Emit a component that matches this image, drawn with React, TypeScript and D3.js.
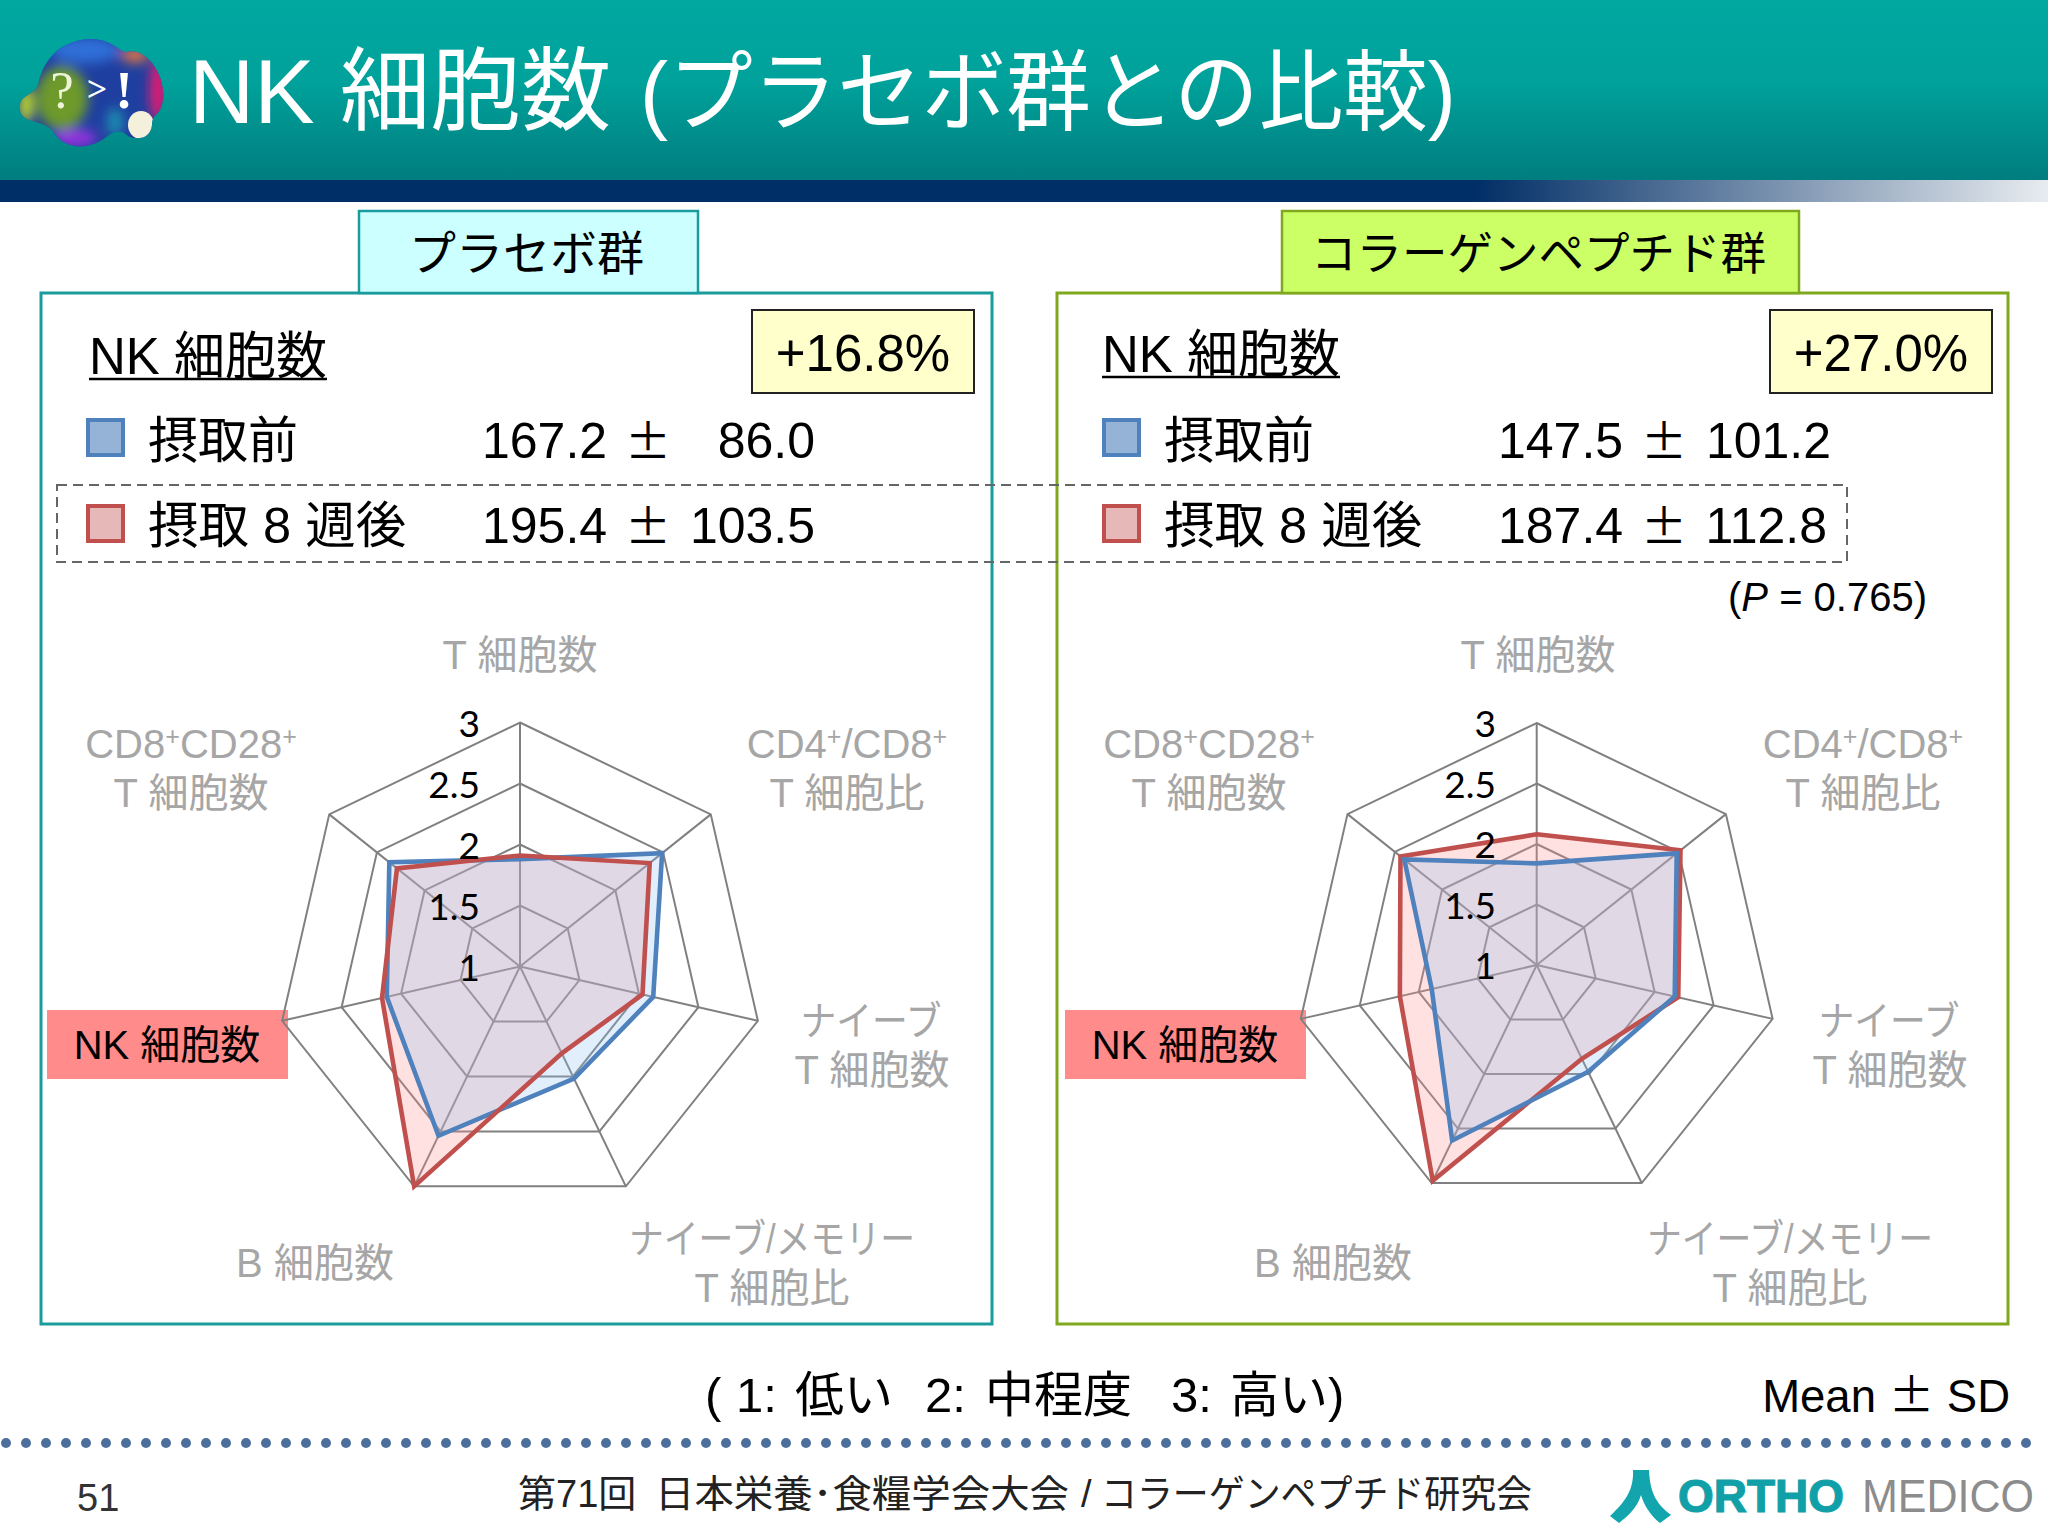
import React from "react";
import * as d3 from "d3";

const categories = ["T 細胞数", "CD4+/CD8+ T 細胞比", "ナイーブ T 細胞数", "ナイーブ/メモリー T 細胞比", "B 細胞数", "NK 細胞数", "CD8+CD28+ T 細胞数"];
const ticks = [1, 1.5, 2, 2.5, 3];
const placeboBefore = [1.88, 2.49, 2.12, 2.02, 2.54, 2.12, 2.37];
const placeboAfter = [1.91, 2.36, 2.03, 1.79, 3.0, 2.16, 2.29];
const collagenBefore = [1.84, 2.48, 2.17, 1.98, 2.61, 1.89, 2.40];
const collagenAfter = [2.08, 2.52, 2.20, 1.86, 2.98, 2.16, 2.44];

const SANS = '"Liberation Sans","Noto Sans CJK JP",sans-serif';
const CJK = '"Noto Sans CJK JP",sans-serif';
const BLUE = "#4f81bd";
const RED = "#c0504d";
const GREY = "#a6a6a6";
const GRID = "#808080";

function Radar({ cx, cy, R, before, after, redOnTop, labelX }: any) {
  const r = d3.scaleLinear().domain([1, 3]).range([0, R]);
  const angle = d3.scalePoint<number>().domain(d3.range(categories.length + 1) as any).range([0, 2 * Math.PI]);
  const ringLine = d3.lineRadial<number>().angle((_, i) => angle(i as any) as number).radius((d) => r(d)).curve(d3.curveLinearClosed);
  const rings = ticks.slice(1);
  const spokes = categories.map((_, i) => {
    const a = angle(i as any) as number;
    return [r(3) * Math.sin(a), -r(3) * Math.cos(a)];
  });
  const seriesB = <path d={ringLine(before) as string} fill="none" stroke={BLUE} strokeWidth={4.6} strokeLinejoin="miter" />;
  const seriesA = <path d={ringLine(after) as string} fill="none" stroke={RED} strokeWidth={4.6} strokeLinejoin="miter" />;
  return (
    <g>
      <g transform={`translate(${cx},${cy})`}>
        {spokes.map((s, i) => <line key={i} x1={0} y1={0} x2={s[0]} y2={s[1]} stroke={GRID} strokeWidth={2} />)}
        {rings.map((t) => (
          <path key={t} d={ringLine(categories.map(() => t)) as string} fill="none" stroke={GRID} strokeWidth={2} />
        ))}
        <path d={ringLine(after) as string} fill="#ff8f8f" fillOpacity={0.27} />
        <path d={ringLine(before) as string} fill="#8fc0f5" fillOpacity={0.27} />
        {redOnTop ? <>{seriesB}{seriesA}</> : <>{seriesA}{seriesB}</>}
      </g>
      {ticks.map((t) => (
        <text key={t} x={labelX} y={cy - r(t) + 14} textAnchor="end" fontFamily="Lato,sans-serif" fontSize={37} fill="#000">{t}</text>
      ))}
    </g>
  );
}

function Sup({ x, y, parts }: any) {
  return (
    <text x={x} y={y} textAnchor="middle" fontFamily={SANS} fontSize={40} fill={GREY}>
      {parts.map((p: string, i: number) => p === "+"
        ? <tspan key={i} fontSize={25} dy={-13}>+</tspan>
        : <tspan key={i} dy={i > 0 && parts[i - 1] === "+" ? 13 : 0}>{p}</tspan>)}
    </text>
  );
}

function Panel(p: any) {
  const dx = p.dx;
  const g = (x: number, y: number, s: string, size = 40, fill = GREY, len?: number) => (
    <text x={x + dx} y={y} textAnchor="middle" fontFamily={SANS} fontSize={size} fill={fill}
      {...(len ? { textLength: len, lengthAdjust: "spacingAndGlyphs" } : {})}>{s}</text>
  );
  return (
    <g>
      <rect x={p.x} y={293} width={p.w} height={1031} fill="#fff" stroke={p.color} strokeWidth={3} />
      <rect x={p.tabX} y={211} width={p.tabW} height={82} fill={p.tabFill} stroke={p.color} strokeWidth={2.5} />
      <text x={p.tabX + p.tabW / 2 - 2} y={270} textAnchor="middle" fontFamily={SANS} fontSize={p.tabSize} fill="#000">{p.tabText}</text>

      <text x={p.nkX} y={p.nkY + 1} fontFamily={SANS} fontSize={51} fill="#000">NK 細胞数</text>
      <line x1={p.nkX} x2={p.nkX + 238} y1={p.nkY + 6} y2={p.nkY + 6} stroke="#000" strokeWidth={2.5} />
      <rect x={p.boxX} y={310} width={222} height={83} fill="#ffffcc" stroke="#222" strokeWidth={2} />
      <text x={p.boxX + 111} y={371} textAnchor="middle" fontFamily={SANS} fontSize={51} fill="#000">{p.pct}</text>

      <rect x={p.legX} y={420} width={35} height={35} fill="#95b3d7" stroke={BLUE} strokeWidth={4} />
      <rect x={p.legX} y={506} width={35} height={35} fill="#e6b9b8" stroke={RED} strokeWidth={4} />
      <text x={p.legX + 60} y={458} fontFamily={SANS} fontSize={50} fill="#000">摂取前</text>
      <text x={p.legX + 60} y={543} fontFamily={SANS} fontSize={50.5} fill="#000">摂取 8 週後</text>
      <text x={p.valX} y={458} fontFamily={SANS} fontSize={50} fill="#000">{p.m1}</text>
      <text x={p.valX + 166} y={458} textAnchor="middle" fontFamily={CJK} fontSize={46} fill="#000">±</text>
      <text x={p.valEnd} y={458} textAnchor="end" fontFamily={SANS} fontSize={50} fill="#000">{p.s1}</text>
      <text x={p.valX} y={543} fontFamily={SANS} fontSize={50} fill="#000">{p.m2}</text>
      <text x={p.valX + 166} y={543} textAnchor="middle" fontFamily={CJK} fontSize={46} fill="#000">±</text>
      <text x={p.valEnd2} y={543} textAnchor="end" fontFamily={SANS} fontSize={50} fill="#000">{p.s2}</text>

      {g(520, 669, categories[0])}
      <Sup x={191 + dx} y={758} parts={["CD8", "+", "CD28", "+"]} />
      {g(191, 807, "T 細胞数")}
      <Sup x={p.cdX} y={758} parts={["CD4", "+", "/CD8", "+"]} />
      <text x={p.cdX} y={807} textAnchor="middle" fontFamily={SANS} fontSize={40} fill={GREY}>T 細胞比</text>
      {g(871, 1035, "ナイーブ", 40, GREY, 141)}
      {g(872, 1084, "T 細胞数")}
      {g(772, 1253, "ナイーブ/メモリー", 40, GREY, 286)}
      {g(772, 1302, "T 細胞比")}
      {g(315, 1277, categories[4])}

      <rect x={47 + dx} y={1010} width={241} height={69} fill="#ff8b8b" />
      {g(167, 1059, categories[5], 40, "#000")}

      <Radar cx={p.cx} cy={p.cy} R={p.R} before={p.before} after={p.after} redOnTop={p.redOnTop} labelX={p.labelX} />
    </g>
  );
}

export default function App() {
  const dots = d3.range(6, 2040, 20);
  return (
    <svg width={2048} height={1536} viewBox="0 0 2048 1536" style={{ position: "absolute", left: 0, top: 0, background: "#fff" }}>
      <defs>
        <linearGradient id="head" x1="0" x2="0" y1="0" y2="1">
          <stop offset="0" stopColor="#00a8a0" />
          <stop offset="0.45" stopColor="#00a29b" />
          <stop offset="1" stopColor="#007d7f" />
        </linearGradient>
        <linearGradient id="bar" x1="0" x2="1" y1="0" y2="0">
          <stop offset="0" stopColor="#002e66" />
          <stop offset="0.72" stopColor="#002e66" />
          <stop offset="1" stopColor="#e8ecf0" />
        </linearGradient>
        <filter id="soft"><feGaussianBlur stdDeviation="6" /></filter>
        <clipPath id="blob">
          <path d="M38,85 C42,65 55,42 88,39 C108,38 116,48 125,52 C150,46 166,80 163,100 C160,118 152,112 152,125 C150,140 136,140 128,136 C120,128 112,132 105,138 C85,152 62,148 52,130 C40,118 18,125 20,105 C21,95 34,95 38,85 Z" />
        </clipPath>
      </defs>
      <rect x={0} y={0} width={2048} height={180} fill="url(#head)" />
      <rect x={0} y={180} width={2048} height={22} fill="url(#bar)" />

      <g clipPath="url(#blob)">
        <rect x={15} y={35} width={155} height={115} fill="#1f3fa0" />
        <g filter="url(#soft)">
          <ellipse cx={85} cy={50} rx={35} ry={13} fill="#2f6fd8" />
          <ellipse cx={62} cy={98} rx={26} ry={32} fill="#6d9a2a" />
          <ellipse cx={26} cy={105} rx={7} ry={18} fill="#c8e020" />
          <ellipse cx={158} cy={90} rx={8} ry={32} fill="#e81a70" />
          <ellipse cx={135} cy={55} rx={14} ry={8} fill="#d9734a" />
          <ellipse cx={75} cy={138} rx={22} ry={8} fill="#9b30e0" />
          <ellipse cx={115} cy={122} rx={8} ry={14} fill="#1f8fb0" />
        </g>
        <ellipse cx={141} cy={125} rx={13} ry={14} fill="#f4f0dc" />
      </g>
      <text x={62} y={108} textAnchor="middle" fontFamily='"Liberation Serif",serif' fontSize={53} fill="#eef4d8">?</text>
      <text x={97} y={101} textAnchor="middle" fontFamily='"Liberation Serif",serif' fontSize={36} fontWeight={700} fill="#fff">&gt;</text>
      <text x={124} y={108} textAnchor="middle" fontFamily='"Liberation Serif",serif' fontSize={53} fontWeight={700} fill="#fff">!</text>

      <text x={189} y={123} fontFamily={SANS} fontSize={90.5} fill="#fff">NK 細胞数</text>
      <text x={640} y={123} fontFamily={SANS} fontSize={88} fill="#fff" textLength={816} lengthAdjust="spacingAndGlyphs">(プラセボ群との比較)</text>

      <Panel x={41} w={951} color="#1a9c9c" tabX={359} tabW={339} tabFill="#ccffff" tabText="プラセボ群" tabSize={47}
        dx={0} nkX={89} nkY={373} boxX={752} pct="+16.8%" legX={88} valX={482} valEnd={815} valEnd2={815}
        m1="167.2" s1="86.0" m2="195.4" s2="103.5" cdX={847}
        cx={520} cy={966.5} R={244} before={placeboBefore} after={placeboAfter} redOnTop={true} labelX={480} />
      <Panel x={1057} w={951} color="#7fa81e" tabX={1282} tabW={517} tabFill="#ccff66" tabText="コラーゲンペプチド群" tabSize={45.5}
        dx={1018} nkX={1102} nkY={371} boxX={1770} pct="+27.0%" legX={1104} valX={1498} valEnd={1831} valEnd2={1827}
        m1="147.5" s1="101.2" m2="187.4" s2="112.8" cdX={1863}
        cx={1536.7} cy={965} R={242} before={collagenBefore} after={collagenAfter} redOnTop={false} labelX={1496} />

      <rect x={57} y={485} width={1790} height={77} fill="none" stroke="#666" strokeWidth={2} strokeDasharray="10 6" />
      <text x={1728} y={611} fontFamily={SANS} fontSize={40} fill="#000">(<tspan fontStyle="italic">P</tspan> = 0.765)</text>

      <text y={1412} fontFamily={SANS} fontSize={49} fill="#000">
        <tspan x={705}>(</tspan>
        <tspan x={736}>1:</tspan>
        <tspan x={795}>低い</tspan>
        <tspan x={925}>2:</tspan>
        <tspan x={985}>中程度</tspan>
        <tspan x={1171}>3:</tspan>
        <tspan x={1230}>高い)</tspan>
      </text>
      <text x={2010} y={1412} textAnchor="end" fontFamily={SANS} fontSize={45.5} fill="#000">Mean <tspan fontFamily={CJK}>±</tspan> SD</text>

      {dots.map((x) => <circle key={x} cx={x} cy={1443} r={5} fill="#4d6f9c" />)}

      <text x={77} y={1511} fontFamily={SANS} fontSize={38} fill="#333">51</text>
      <text x={518} y={1507} fontFamily={SANS} fontSize={38} fill="#222">第71回</text>
      <text x={655} y={1507} fontFamily={SANS} fontSize={38} fill="#222" textLength={414} lengthAdjust="spacingAndGlyphs">日本栄養･食糧学会大会</text>
      <text x={1081} y={1507} fontFamily={SANS} fontSize={38} fill="#222">/</text>
      <text x={1101} y={1507} fontFamily={SANS} fontSize={38} fill="#222" textLength={431} lengthAdjust="spacingAndGlyphs">コラーゲンペプチド研究会</text>

      <path d="M1633,1470 L1649,1470 C1650,1495 1658,1505 1671,1515 L1660,1523 C1650,1515 1644,1505 1641,1495 C1637,1508 1628,1516 1619,1523 L1610,1516 C1625,1502 1634,1490 1633,1470 Z" fill="#12a5ad" />
      <text x={1678} y={1512} fontFamily={SANS} fontSize={46} fontWeight={700} fill="#12a0a8" stroke="#12a0a8" strokeWidth={1.2} textLength={166} lengthAdjust="spacingAndGlyphs">ORTHO</text>
      <text x={1862} y={1512} fontFamily={SANS} fontSize={46} fill="#8c8c8c" textLength={172} lengthAdjust="spacingAndGlyphs">MEDICO</text>
    </svg>
  );
}
